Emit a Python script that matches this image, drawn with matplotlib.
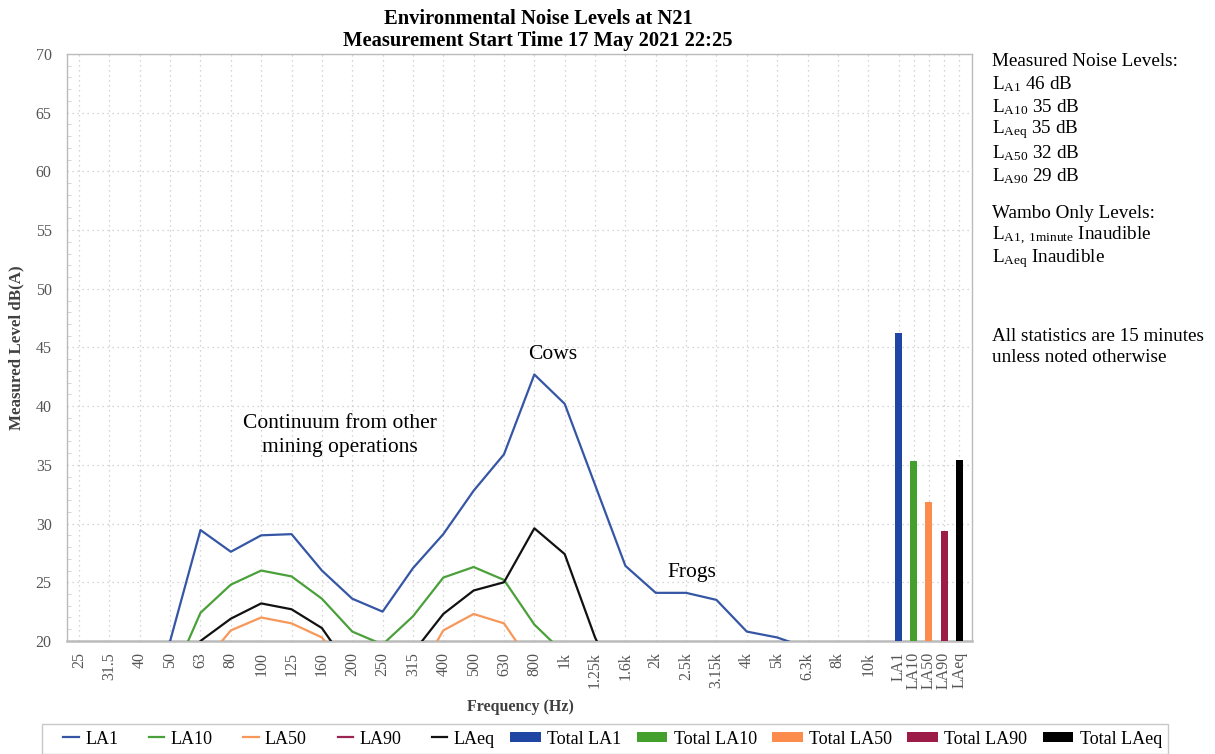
import numpy as np
import matplotlib
matplotlib.use('Agg')
import matplotlib.pyplot as plt
from matplotlib.lines import Line2D
from matplotlib.patches import Patch
from matplotlib.legend_handler import HandlerBase

# frequency bands (1/3 octave)
freqs = ['25', '31.5', '40', '50', '63', '80', '100', '125', '160', '200', '250', '315',
         '400', '500', '630', '800', '1k', '1.25k', '1.6k', '2k', '2.5k', '3.15k', '4k',
         '5k', '6.3k', '8k', '10k']

# spectra, dB(A) - anything under 20 is cut off by the axis
la1 = [15.0, 16.0, 17.5, 20.0, 29.45, 27.6, 29.0, 29.1, 26.0, 23.6, 22.5, 26.2, 29.1, 32.8,
       35.9, 42.7, 40.2, 33.3, 26.4, 24.1, 24.1, 23.5, 20.8, 20.3, 19.4, 18.5, 17.5]
la10 = [14.0, 14.5, 15.5, 16.5, 22.4, 24.8, 26.0, 25.5, 23.6, 20.8, 19.7, 22.1, 25.4, 26.3,
        25.2, 21.4, 18.9, 17.5, 16.5, 16.0, 16.0, 15.5, 14.5, 14.0, 13.5, 13.0, 12.5]
la50 = [12.0, 12.0, 12.5, 13.5, 17.8, 20.9, 22.0, 21.5, 20.3, 17.0, 15.5, 16.4, 20.9, 22.3,
        21.5, 17.7, 16.0, 14.5, 13.5, 13.0, 13.0, 12.5, 12.0, 11.5, 11.0, 10.5, 10.0]
la90 = [10.0, 10.0, 11.0, 12.0, 15.0, 17.0, 18.0, 18.0, 17.0, 15.0, 14.0, 15.0, 17.0, 18.0,
        18.0, 16.0, 15.0, 14.0, 13.0, 12.0, 12.0, 11.0, 10.0, 10.0, 9.0, 9.0, 9.0]
laeq = [13.0, 13.5, 14.5, 16.0, 20.0, 21.9, 23.2, 22.7, 21.1, 17.4, 16.8, 19.0, 22.3, 24.3,
        25.0, 29.6, 27.4, 20.3, 15.0, 13.5, 13.5, 13.0, 12.5, 12.0, 11.5, 11.0, 10.5]

# overall totals
total_names = ['LA1', 'LA10', 'LA50', 'LA90', 'LAeq']
totals = [46.2, 35.3, 31.8, 29.4, 35.4]

line_cols = ['#3556a5', '#4aa03a', '#f7975a', '#9b2452', '#111111']
bar_cols = ['#1f46a3', '#44a02c', '#fb8c4c', '#9c1c47', '#000000']


class ShortLine(HandlerBase):
    # short line sitting in the right half of the handle box, like excel does
    def create_artists(self, legend, orig, xdescent, ydescent, width, height, fontsize, trans):
        y = height / 2 - ydescent
        ln = Line2D([width * 0.5 - xdescent, width - xdescent], [y, y],
                    color=orig.get_color(), lw=orig.get_linewidth())
        ln.set_transform(trans)
        return [ln]


plt.rcParams['font.family'] = ['Liberation Serif', 'DejaVu Serif']
plt.rcParams['mathtext.fontset'] = 'custom'
plt.rcParams['mathtext.rm'] = 'Liberation Serif'
plt.rcParams['mathtext.it'] = 'Liberation Serif:italic'

fig = plt.figure(figsize=(12.15, 7.54), dpi=100)
ax = fig.add_axes([0.0551, 0.1499, 0.7449, 0.7785])

xf = np.arange(len(freqs))
xt = len(freqs) + 0.5 * np.arange(len(totals))

series = [la1, la10, la50, la90, laeq]
names = ['LA1', 'LA10', 'LA50', 'LA90', 'LAeq']
for s, c in zip(series, line_cols):
    ax.plot(xf, s, color=c, lw=1.6, zorder=3)

ax.bar(xt, totals, width=0.23, color=bar_cols, zorder=3)

ax.set_xlim(-0.4, 29.42)
ax.set_ylim(20, 70)
ax.set_yticks(np.arange(20, 71, 5))
ax.set_yticks(np.arange(20, 71, 1), minor=True)
ax.set_xticks(np.concatenate([xf, xt]))
ax.set_xticklabels(freqs + total_names, rotation=90, fontsize=11.5, color='#555555')
ax.tick_params(axis='y', labelsize=11.5, labelcolor='#555555', length=0, pad=11)
ax.tick_params(axis='y', which='minor', direction='in', length=3, color='#cccccc')
ax.tick_params(axis='x', length=0, pad=8)

ax.grid(True, which='major', color='#c8c8c8', linestyle=(0, (1, 3)), lw=0.9)
for sp in ax.spines.values():
    sp.set_color('#bbbbbb')
    sp.set_linewidth(1.0)
ax.spines['bottom'].set_linewidth(1.8)

ax.set_ylabel('Measured Level dB(A)', fontsize=12.2, fontweight='bold', color='#404040', labelpad=8)
fig.text(0.428, 0.062, 'Frequency (Hz)', ha='center', va='center', fontsize=11.5,
         fontweight='bold', color='#404040')

fig.text(0.443, 0.975, 'Environmental Noise Levels at N21', ha='center', va='center',
         fontsize=14.8, fontweight='bold')
fig.text(0.443, 0.945, 'Measurement Start Time 17 May 2021 22:25', ha='center', va='center',
         fontsize=14.8, fontweight='bold')

# annotations
ax.text(8.6, 37.5, 'Continuum from other\nmining operations', ha='center', va='center',
        fontsize=15.5, linespacing=1.3)
ax.text(15.6, 44.4, 'Cows', ha='center', va='center', fontsize=15.5)
ax.text(20.2, 25.8, 'Frogs', ha='center', va='center', fontsize=15.5)

# side notes
side = [(61, 'Measured Noise Levels:'),
        (84, r'L$_{\mathrm{A1}}$ 46 dB'),
        (107, r'L$_{\mathrm{A10}}$ 35 dB'),
        (130, r'L$_{\mathrm{Aeq}}$ 35 dB'),
        (153, r'L$_{\mathrm{A50}}$ 32 dB'),
        (176, r'L$_{\mathrm{A90}}$ 29 dB'),
        (213, 'Wambo Only Levels:'),
        (236, r'L$_{\mathrm{A1,\ 1minute}}$ Inaudible'),
        (259, r'L$_{\mathrm{Aeq}}$ Inaudible'),
        (337, 'All statistics are 15 minutes'),
        (357, 'unless noted otherwise')]
for ypx, txt in side:
    fig.text(992 / 1215, 1 - ypx / 754, txt, ha='left', va='center', fontsize=13.8)

handles = [Line2D([0], [0], color=c, lw=1.6) for c in line_cols]
handles += [Patch(facecolor=c, edgecolor='none') for c in bar_cols]
labels = names + ['Total ' + n for n in names]
hmap = {h: ShortLine() for h in handles[:5]}
leg = fig.legend(handles, labels, loc='lower center', bbox_to_anchor=(0.498, -0.012),
                 ncol=10, fontsize=13, frameon=True, fancybox=False, handlelength=1.7,
                 handleheight=0.5, columnspacing=0.85, handletextpad=0.35, borderpad=0.35,
                 handler_map=hmap)
leg.get_frame().set_edgecolor('#bbbbbb')
leg.get_frame().set_linewidth(1.0)

fig.savefig('out.png', dpi=100, facecolor='white')
